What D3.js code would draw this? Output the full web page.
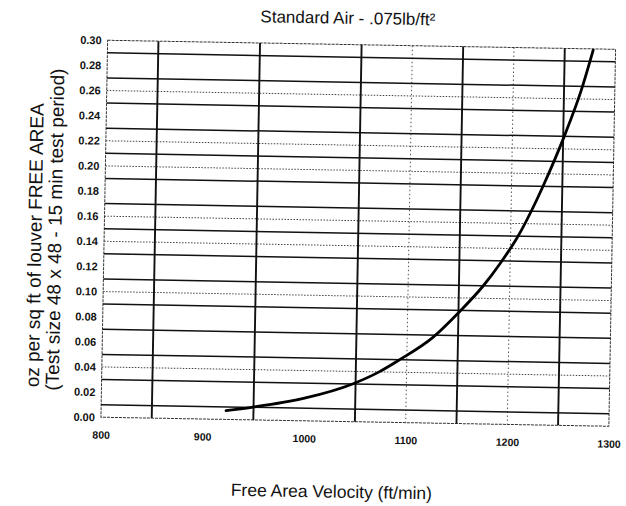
<!DOCTYPE html>
<html>
<head>
<meta charset="utf-8">
<script src="https://cdn.jsdelivr.net/npm/d3@7"></script>
<style>
  html, body { margin: 0; padding: 0; background: #fff; }
  svg { display: block; }
  text { font-family: "Liberation Sans", Arial, Helvetica, sans-serif; fill: #111; }
</style>
</head>
<body>
<svg id="chart" width="626" height="506"></svg>
<script>
// ---- data ----
const xTicks = [800, 900, 1000, 1100, 1200, 1300];
const yTicks = [0.00, 0.02, 0.04, 0.06, 0.08, 0.10, 0.12, 0.14, 0.16, 0.18, 0.20, 0.22, 0.24, 0.26, 0.28, 0.30];
const solidGridY = [0.01, 0.03, 0.05, 0.07, 0.09, 0.11, 0.13, 0.15, 0.17, 0.19, 0.21, 0.23, 0.25, 0.27, 0.29];
const dottedGridY = [0.04, 0.10, 0.14, 0.16, 0.20, 0.22, 0.26];
const solidGridX = [850, 950, 1050, 1150, 1250];
const dottedGridX = [1100, 1200];
const velocity = [923, 948, 1000, 1047, 1073, 1093, 1125, 1151, 1174, 1191, 1206, 1225, 1231, 1251, 1267, 1278];
const leakage  = [0.007, 0.010, 0.018, 0.030, 0.040, 0.050, 0.068, 0.089, 0.110, 0.129, 0.148, 0.179, 0.190, 0.230, 0.267, 0.299];
const titleText = "Standard Air - .075lb/ft\u00B2";
const xTitle = "Free Area Velocity (ft/min)";
const yTitle1 = "oz per sq ft of louver FREE AREA";
const yTitle2 = "(Test size 48 x 48 - 15 min test period)";

// ---- layout ----
const W = 626, H = 506;
const plot = { left: 104.25, top: 44.75, width: 508, height: 377 };
const cx = plot.left + plot.width / 2, cy = plot.top + plot.height / 2;
const tilt = 1.02; // scanned page is slightly rotated

const svg = d3.select("#chart");
svg.append("rect").attr("width", W).attr("height", H).attr("fill", "#fff");
const root = svg.append("g").attr("transform", `rotate(${tilt},${cx},${cy})`);

const x = d3.scaleLinear().domain([800, 1300]).range([plot.left, plot.left + plot.width]);
const y = d3.scaleLinear().domain([0, 0.30]).range([plot.top + plot.height, plot.top]);

const g = root.append("g");

// border (thin, dotted-looking)
g.append("rect")
  .attr("x", plot.left).attr("y", plot.top)
  .attr("width", plot.width).attr("height", plot.height)
  .attr("fill", "none").attr("stroke", "#333").attr("stroke-width", 1)
  .attr("stroke-dasharray", "3,1");

// dotted grid
g.selectAll("line.dy").data(dottedGridY).join("line")
  .attr("class", "dy")
  .attr("x1", plot.left).attr("x2", plot.left + plot.width)
  .attr("y1", d => y(d)).attr("y2", d => y(d))
  .attr("stroke", "#444").attr("stroke-width", 1).attr("stroke-dasharray", "1.5,1.5");
g.selectAll("line.dx").data(dottedGridX).join("line")
  .attr("class", "dx")
  .attr("y1", plot.top).attr("y2", plot.top + plot.height)
  .attr("x1", d => x(d)).attr("x2", d => x(d))
  .attr("stroke", "#555").attr("stroke-width", 1).attr("stroke-dasharray", "1.5,2.5");

// solid grid
g.selectAll("line.sy").data(solidGridY).join("line")
  .attr("class", "sy")
  .attr("x1", plot.left).attr("x2", plot.left + plot.width)
  .attr("y1", d => y(d)).attr("y2", d => y(d))
  .attr("stroke", "#111").attr("stroke-width", 1.5);
g.selectAll("line.sx").data(solidGridX).join("line")
  .attr("class", "sx")
  .attr("y1", plot.top).attr("y2", plot.top + plot.height)
  .attr("x1", d => x(d)).attr("x2", d => x(d))
  .attr("stroke", "#111").attr("stroke-width", 1.9);

// axes labels via d3 axes (no domain/ticks lines)
const yAxis = d3.axisLeft(y).tickValues(yTicks).tickFormat(d3.format(".2f")).tickSize(0).tickPadding(6);
const ya = g.append("g").attr("transform", `translate(${plot.left},0)`).call(yAxis);
ya.select(".domain").remove();
ya.selectAll("text").style("font-size", "11px").style("font-weight", "bold").attr("fill", "#111");

const xAxis = d3.axisBottom(x).tickValues(xTicks).tickFormat(d3.format("d")).tickSize(0).tickPadding(14);
const xa = g.append("g").attr("transform", `translate(0,${plot.top + plot.height})`).call(xAxis);
xa.select(".domain").remove();
xa.selectAll("text").style("font-size", "10.5px").style("font-weight", "bold").attr("fill", "#111");

// curve
const pts = velocity.map((v, i) => [v, leakage[i]]);
const line = d3.line().x(d => x(d[0])).y(d => y(d[1])).curve(d3.curveMonotoneX);
g.append("path").datum(pts)
  .attr("d", line).attr("fill", "none")
  .attr("stroke", "#000").attr("stroke-width", 2.8).attr("stroke-linecap", "round");

// titles
root.append("text").attr("x", 344).attr("y", 24).attr("text-anchor", "middle")
  .style("font-size", "17px").text(titleText);
root.append("text").attr("x", 336).attr("y", 498).attr("text-anchor", "middle")
  .style("font-size", "17.5px").text(xTitle);
root.append("text").attr("transform", "translate(41.5,251) rotate(-90)").attr("text-anchor", "middle")
  .style("font-size", "19px").text(yTitle1);
root.append("text").attr("transform", "translate(61.5,235) rotate(-90)").attr("text-anchor", "middle")
  .style("font-size", "19px").text(yTitle2);
</script>
</body>
</html>
